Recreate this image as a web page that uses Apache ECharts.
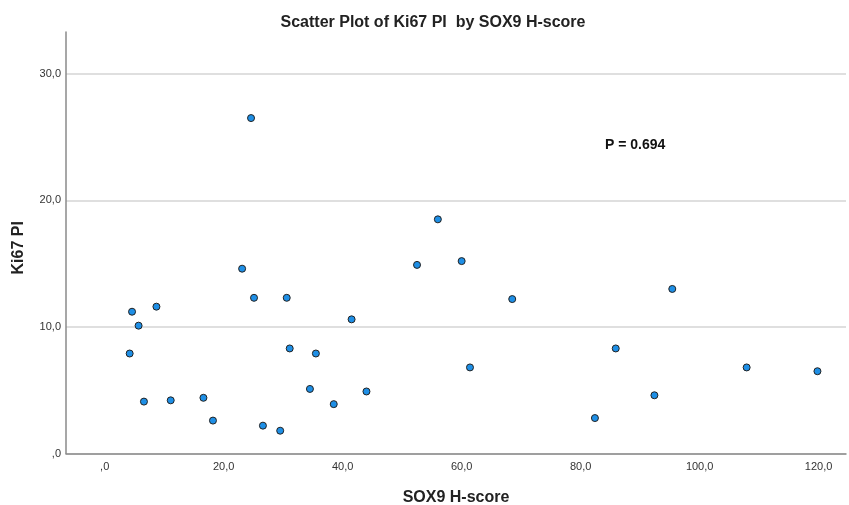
<!DOCTYPE html>
<html>
<head>
<meta charset="utf-8">
<script src="https://cdn.jsdelivr.net/npm/echarts@6/dist/echarts.min.js"></script>
<style>
  html, body { margin: 0; padding: 0; background: #ffffff; }
  #chart { width: 849px; height: 505px; }
</style>
</head>
<body>
<div id="chart"></div>
<script>
// SOX9 H-score (x) and Ki67 proliferation index (y), one entry per case
const sox9HScore = [4.2, 4.6, 5.7, 6.6, 8.7, 11.1, 16.6, 18.2, 23.1, 24.6, 25.1, 26.6, 29.5, 30.6, 31.1,
                    34.5, 35.5, 38.5, 41.5, 44.0, 52.5, 56.0, 60.0, 61.4, 68.5, 82.4, 85.9, 92.4, 95.4, 107.9, 119.8];
const ki67PI     = [7.9, 11.2, 10.1, 4.1, 11.6, 4.2, 4.4, 2.6, 14.6, 26.5, 12.3, 2.2, 1.8, 12.3, 8.3,
                    5.1, 7.9, 3.9, 10.6, 4.9, 14.9, 18.5, 15.2, 6.8, 12.2, 2.8, 8.3, 4.6, 13.0, 6.8, 6.5];

// Tick labels shown on each axis
const xTickValues = [0, 20, 40, 60, 80, 100, 120];
const yTickValues = [0, 10, 20, 30];

const chartTitle = 'Scatter Plot of Ki67 PI  by SOX9 H-score';
const xAxisTitle = 'SOX9 H-score';
const yAxisTitle = 'Ki67 PI';
const pValueText = 'P = 0.694';

const points = sox9HScore.map((x, i) => [x, ki67PI[i]]);

// Decimal comma, leading zero dropped for zero (",0")
function fmt(v) {
  if (Math.abs(v) < 1e-9) return ',0';
  return v.toFixed(1).replace('.', ',');
}

const FONT = '"Liberation Sans", Arial, sans-serif';
const chart = echarts.init(document.getElementById('chart'), null, { renderer: 'canvas' });

chart.setOption({
  animation: false,
  backgroundColor: '#ffffff',
  title: {
    text: chartTitle,
    left: 428,
    top: 10,
    textAlign: 'center',
    textStyle: { fontFamily: FONT, fontSize: 16, fontWeight: 'bold', color: '#222222' }
  },
  grid: {
    left: 66, right: 3, top: 32, bottom: 51.5,
    containLabel: false,
    outerBoundsMode: 'none'
  },
  xAxis: {
    type: 'value',
    min: -6.5,
    max: 124.6,
    name: xAxisTitle,
    nameLocation: 'middle',
    nameGap: 36,
    nameTextStyle: { fontFamily: FONT, fontSize: 16, fontWeight: 'bold', color: '#222222' },
    axisLine: { show: true, onZero: false, lineStyle: { color: '#8a8a8a', width: 1.5 } },
    axisTick: { show: false },
    splitLine: { show: false },
    axisLabel: {
      customValues: xTickValues,
      formatter: fmt,
      margin: 8,
      fontFamily: FONT, fontSize: 11, color: '#333333'
    }
  },
  yAxis: {
    type: 'value',
    min: 0,
    max: 33.3,
    interval: 10,
    name: yAxisTitle,
    nameLocation: 'middle',
    nameRotate: 90,
    nameGap: 39,
    nameTextStyle: { fontFamily: FONT, fontSize: 16, fontWeight: 'bold', color: '#222222', padding: [0, 10, 0, 0] },
    axisLine: { show: true, onZero: false, lineStyle: { color: '#8a8a8a', width: 1.5 } },
    axisTick: { show: false, customValues: yTickValues },
    splitLine: { show: true, lineStyle: { color: '#d4d4d4', width: 1.5 } },
    axisLabel: {
      customValues: yTickValues,
      formatter: fmt,
      margin: 5,
      fontFamily: FONT, fontSize: 11, color: '#333333'
    }
  },
  graphic: [{
    type: 'text',
    left: 605,
    top: 138,
    style: {
      text: pValueText,
      font: 'bold 14px ' + FONT,
      fill: '#111111'
    }
  }],
  series: [{
    type: 'scatter',
    data: points,
    symbol: 'circle',
    symbolSize: 7,
    itemStyle: { color: '#1e8fe6', borderColor: '#222222', borderWidth: 1, opacity: 1 },
    emphasis: { disabled: true }
  }]
});
</script>
</body>
</html>
